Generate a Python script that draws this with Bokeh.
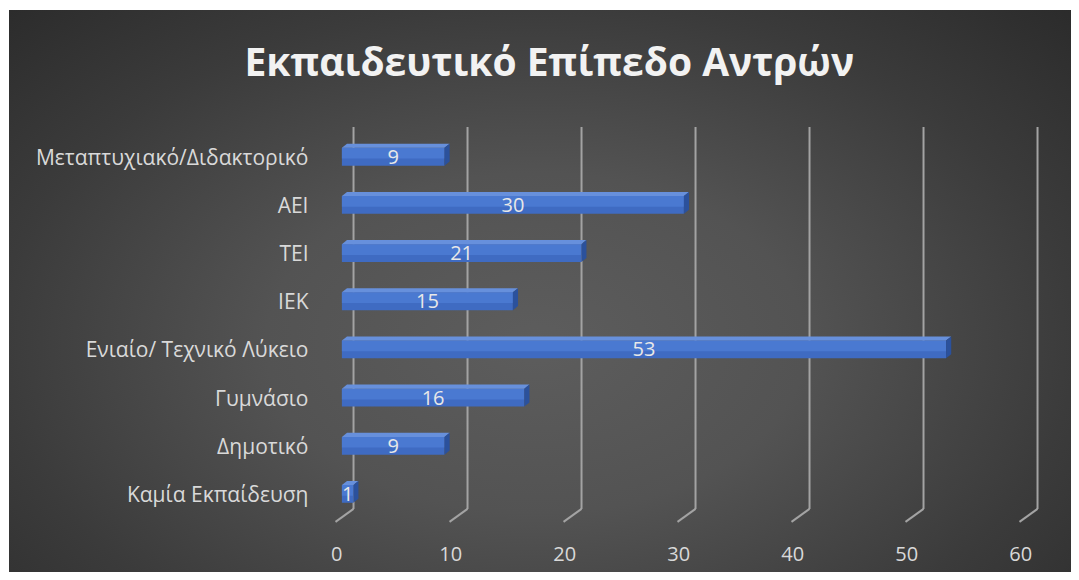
from bokeh.plotting import figure
from bokeh.models import Range1d, FixedTicker, LinearAxis
from bokeh.embed import file_html
from bokeh.resources import INLINE
from bokeh.core.properties import value

# ---- data ----
title_text = "Εκπαιδευτικό Επίπεδο Αντρών"
categories = ["Καμία Εκπαίδευση", "Δημοτικό", "Γυμνάσιο", "Ενιαίο/ Τεχνικό Λύκειο",
              "ΙΕΚ", "ΤΕΙ", "ΑΕΙ", "Μεταπτυχιακό/Διδακτορικό"]
counts = [1, 9, 16, 53, 15, 21, 30, 9]
x_ticks = [0, 10, 20, 30, 40, 50, 60]

# ---- style constants ----
FONT = "Open Sans"
X0, X1 = -1.0, 61.72
BAR_H = 0.37          # front face thickness (category units)
DEPTH_X = 0.45        # 3D depth offset in value units
DEPTH_Y = 0.085       # 3D depth offset in category units
GRID_BACK = 1.02      # back wall offset of gridlines (value units)
GRID_FRONT = -0.56    # front foot of gridlines
GRID_TOP = 7.62
GRID_BASE = -0.31
GRID_FOOT = -0.58
FRONT_SHIFT = 0.45    # value axis labels sit on the front plane

p = figure(width=1071, height=572,
           x_range=Range1d(X0, X1), y_range=Range1d(-0.8, 7.815),
           x_axis_location=None,
           output_backend="svg", toolbar_location=None,
           min_border_left=330, min_border_right=26,
           min_border_top=116, min_border_bottom=40)

p.background_fill_alpha = 0
p.border_fill_alpha = 0
p.outline_line_color = None
p.grid.visible = False
p.styles = {"background":
            "linear-gradient(#ffffff,#ffffff) left top / 100% 10px no-repeat, "
            "linear-gradient(#ffffff,#ffffff) left top / 9px 100% no-repeat, "
            "radial-gradient(ellipse 72% 85% at 50% 60%, #5d5d5d 0%, #535353 35%, "
            "#3b3b3b 70%, #2a2a2a 100%)"}

# title
p.title.text = title_text
p.title.align = "left"
p.title.offset = -86
p.title.standoff = 62
p.title.text_font = FONT
p.title.text_font_size = "39px"
p.title.text_font_style = "bold"
p.title.text_color = "#f2f2f2"

# value axis on the front plane
p.extra_x_ranges = {"front": Range1d(X0 + FRONT_SHIFT, X1 + FRONT_SHIFT)}
xaxis = LinearAxis(x_range_name="front", ticker=FixedTicker(ticks=x_ticks))
p.add_layout(xaxis, "below")

# category axis
p.yaxis.ticker = FixedTicker(ticks=list(range(len(categories))))
p.yaxis.major_label_overrides = {i: c for i, c in enumerate(categories)}
for ax in (xaxis, p.yaxis[0]):
    ax.axis_line_color = None
    ax.major_tick_line_color = None
    ax.minor_tick_line_color = None
    ax.major_label_text_color = "#d9d9d9"
    ax.major_label_text_font = FONT
p.yaxis.major_label_text_font_size = "21px"
xaxis.major_label_text_font_size = "20px"
p.yaxis.major_label_standoff = 16
xaxis.major_label_standoff = 8

# gridlines (3D wall style)
gb = [t + GRID_BACK for t in x_ticks]
gf = [t + GRID_FRONT for t in x_ticks]
p.segment(x0=gb, y0=[GRID_TOP] * len(gb), x1=gb, y1=[GRID_BASE] * len(gb),
          line_color="#a3a3a3", line_width=2)
p.segment(x0=gb, y0=[GRID_BASE] * len(gb), x1=gf, y1=[GRID_FOOT] * len(gb),
          line_color="#a3a3a3", line_width=2)

# bars (3D look: front face with highlight band, top face, side face)
ys = list(range(len(categories)))
p.hbar(y=ys, left=0, right=counts, height=BAR_H,
       fill_color="#3f6bc2", line_color=None)
p.hbar(y=[y + BAR_H * 0.2 for y in ys], left=0, right=counts, height=BAR_H * 0.6,
       fill_color="#4a79d1", line_color=None)
top_xs, top_ys, side_xs, side_ys = [], [], [], []
for y, v in zip(ys, counts):
    t = y + BAR_H / 2
    b = y - BAR_H / 2
    top_xs.append([0, DEPTH_X, v + DEPTH_X, v])
    top_ys.append([t, t + DEPTH_Y, t + DEPTH_Y, t])
    side_xs.append([v, v, v + DEPTH_X, v + DEPTH_X])
    side_ys.append([b, t, t + DEPTH_Y, b + DEPTH_Y])
p.patches(top_xs, top_ys, fill_color="#6790dc", line_color=None)
p.patches(side_xs, side_ys, fill_color="#2b519c", line_color=None)

# data labels
p.text(x=[v / 2 for v in counts], y=ys, text=[str(v) for v in counts],
       text_align="center", text_baseline="middle",
       text_font=value(FONT), text_font_size="20px", text_color="#e8e8e8")

open("out.html", "w").write(file_html(p, INLINE))
